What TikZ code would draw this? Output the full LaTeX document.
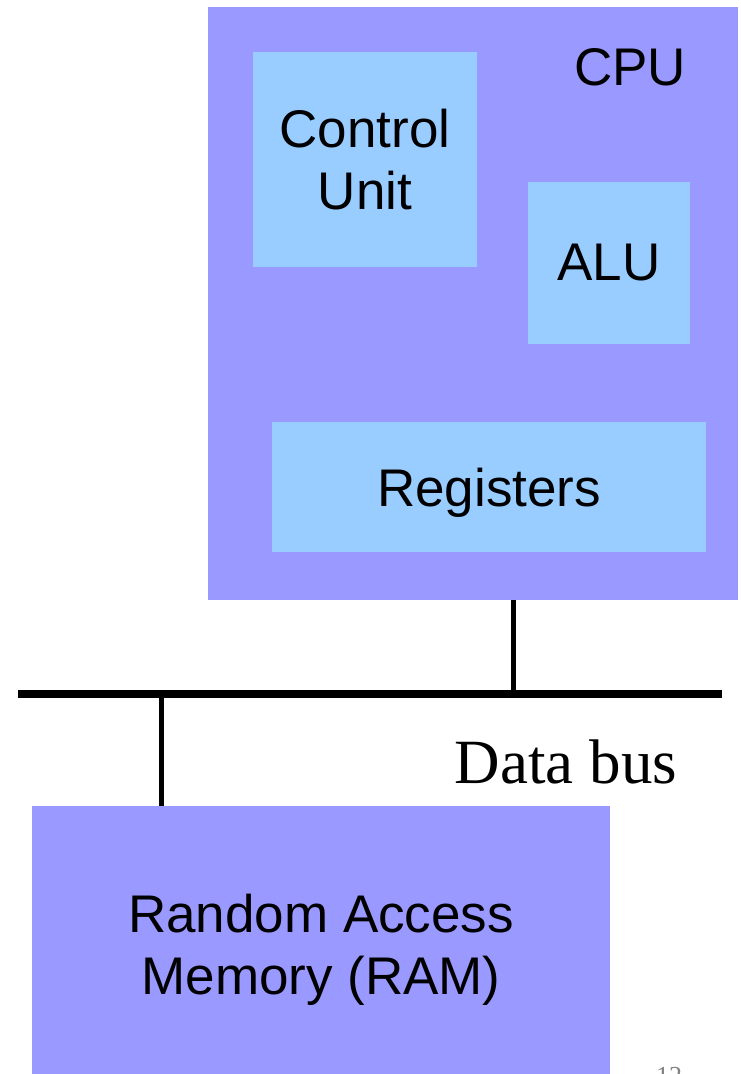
\documentclass[tikz,border=0pt]{standalone}
\usepackage{fontspec}
\setmainfont{Liberation Serif}
\setsansfont{Liberation Sans}
\usepackage{tikz}
\usetikzlibrary{positioning}

\definecolor{cpublue}{HTML}{9999FF}
\definecolor{partblue}{HTML}{99CCFF}

\begin{document}
\begin{tikzpicture}[x=1pt,y=-1pt,
  box/.style={rectangle,inner sep=0pt,align=center,font=\sffamily\fontsize{53}{62}\selectfont},
  unitbox/.style={box,fill=partblue},
  bigbox/.style={box,fill=cpublue},
  wire/.style={line width=5pt}]
\useasboundingbox (0,0) rectangle (740,1074);
% CPU and its parts
\node[bigbox,minimum width=530pt,minimum height=593pt] (cpu) at (473,303) {};
\node[box,anchor=base] (cpulabel) at (630,85) {CPU};
\node[unitbox,minimum width=224pt,minimum height=215pt] (ctrl) at (365,159.5) {Control\\Unit};
\node[unitbox,minimum width=162pt,minimum height=162pt] (alu) at (609,263) {ALU};
\node[unitbox,minimum width=434pt,minimum height=130pt,text height=50pt] (regs) at (489,487) {Registers};
% memory
\node[bigbox,minimum width=578pt,minimum height=288pt] (ram) at (321,950) {Random Access\\Memory (RAM)};
% bus
\coordinate (busL) at (18,694);
\coordinate (busR) at (722,694);
\coordinate (cputap) at (513,694);
\coordinate (ramtap) at (161,694);
\draw[line width=8pt] (busL) -- (busR);
\draw[wire] (cputap |- cpu.south) -- (cputap);
\draw[wire] (ramtap) -- (ramtap |- ram.north);
\node[anchor=base,inner sep=0pt,font=\fontsize{63}{70}\selectfont] (buslabel) at (566,783) {Data bus};
\node[anchor=base,inner sep=0pt,text=gray,font=\fontsize{26}{30}\selectfont] (pagenum) at (669,1084) {12};
\end{tikzpicture}
\end{document}
